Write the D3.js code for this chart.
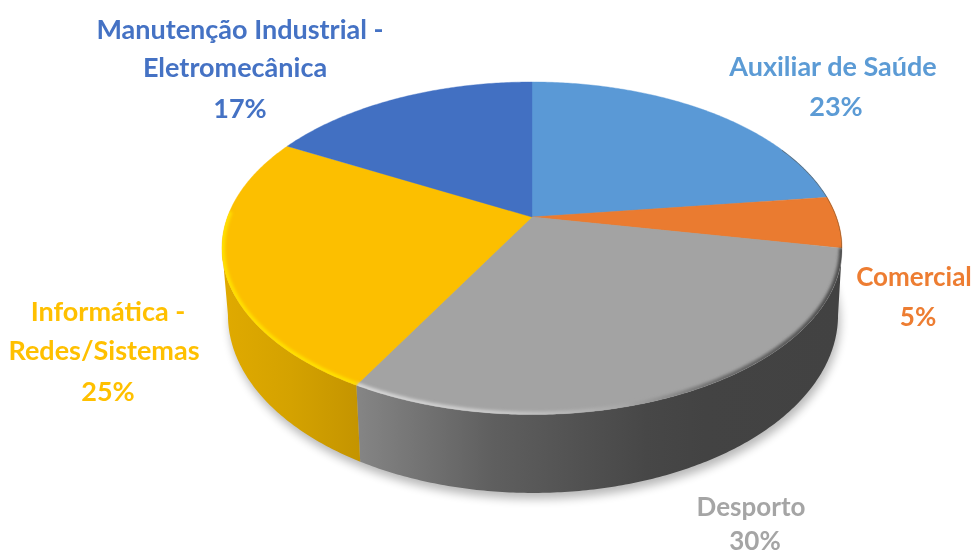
<!DOCTYPE html>
<html><head><meta charset="utf-8">
<script src="https://cdn.jsdelivr.net/npm/d3@7"></script>
<style>html,body{margin:0;padding:0;background:#fff}svg{display:block}</style>
</head><body>
<svg id="c" width="975" height="556"></svg>
<script>
const categories = ["Auxiliar de Saúde","Comercial","Desporto","Informática - Redes/Sistemas","Manutenção Industrial - Eletromecânica"];
const values = [23,5,30,25,17];
const percentLabels = ["23%","5%","30%","25%","17%"];
const labelLines = [["Auxiliar de Saúde"],["Comercial"],["Desporto"],["Informática -","Redes/Sistemas"],["Manutenção Industrial -","Eletromecânica"]];
const colors = ["#5a99d6","#ea7b30","#a3a3a3","#fcbf00","#4270c2"];
const labelColors = ["#5b9bd5","#ed7d31","#a5a5a5","#ffc000","#4472c4"];
// layout: centre x and centre y of each text line
const labelLayout = [
  {xs:[833,836],ys:[66,106],size:27},
  {xs:[914,918],ys:[277,317],size:26},
  {xs:[751,755],ys:[507,541],size:26},
  {xs:[108,104,108],ys:[311,350,391],size:27},
  {xs:[240,235,240],ys:[29,67,108],size:27}
];

const svg = d3.select("#c");
const defs = svg.append("defs");
const T = 0.188;
const topFace = {cx:532, cy:217, A:304.5, B:160.4};
const botFace = {cx:533, cy:281.6, A:299.6, B:171.6};
const project = (f,a)=>{const u=Math.sin(a),v=-Math.cos(a),d=1-T*v;return [f.cx+f.A*u/d, f.cy+f.B*v/d];};
const arcPts = (f,a0,a1)=>{const n=Math.max(2,Math.ceil(Math.abs(a1-a0)/0.01));return d3.range(n+1).map(i=>project(f,a0+(a1-a0)*i/n));};
const line = d3.line();
const arcs = d3.pie().sort(null).value(d=>d)(values);

function blur(id,s){defs.append("filter").attr("id",id).attr("x","-20%").attr("y","-20%").attr("width","140%").attr("height","140%")
  .append("feGaussianBlur").attr("stdDeviation",s);}
blur("sh",5);blur("bev",1.6);blur("txt",0.45);
function grad(id,x0,x1,stops){const g=defs.append("linearGradient").attr("id",id).attr("gradientUnits","userSpaceOnUse").attr("x1",x0).attr("x2",x1).attr("y1",0).attr("y2",0);
  stops.forEach(s=>g.append("stop").attr("offset",s[0]).attr("stop-color",s[1]));}
grad("sideGray",357,840,[[0,"#858585"],[0.28,"#5f5f5f"],[0.6,"#474747"],[0.72,"#434343"],[1,"#424242"]]);
grad("sideYel",222,360,[[0,"#e0aa00"],[0.5,"#d4a200"],[1,"#c49400"]]);
grad("bevGray",357,842,[[0,"#d6d6d6"],[0.3,"#c8c8c8"],[0.55,"#a8a8a8"],[0.75,"#6a6a6a"],[1,"#4a4a4a"]]);

// soft shadow
const whole=arcPts(botFace,0,2*Math.PI);
svg.append("path").attr("d",line(whole)+"Z").attr("transform","translate(2,6)").attr("fill","#000").attr("opacity",0.28).attr("filter","url(#sh)");

// sides
const leftExtreme = Math.PI*2*(259.2/360);
function side(a0,a1,fill){
  const pts=arcPts(topFace,a0,a1).concat(arcPts(botFace,a1,a0));
  svg.append("path").attr("d",line(pts)+"Z").attr("fill",fill);
}
side(arcs[2].startAngle,arcs[2].endAngle,"url(#sideGray)");
side(arcs[3].startAngle,leftExtreme,"url(#sideYel)");

// top faces
const clipPts=arcPts(topFace,0,2*Math.PI);
defs.append("clipPath").attr("id","topClip").append("path").attr("d",line(clipPts)+"Z");
const faces=svg.append("g");
arcs.forEach((d,i)=>{
  const pts=[[topFace.cx,topFace.cy]].concat(arcPts(topFace,d.startAngle,d.endAngle));
  faces.append("path").attr("d",line(pts)+"Z").attr("fill",colors[i]).attr("stroke",colors[i]).attr("stroke-width",0.4);
});
// bevels along the front rim
const bev=svg.append("g").attr("clip-path","url(#topClip)");
bev.append("path").attr("d",line(arcPts(topFace,arcs[2].startAngle,arcs[2].endAngle))).attr("fill","none").attr("stroke","url(#bevGray)").attr("stroke-width",6).attr("filter","url(#bev)");
bev.append("path").attr("d",line(arcPts(topFace,arcs[3].startAngle,Math.PI*2*(272/360)))).attr("fill","none").attr("stroke","#ffe000").attr("stroke-width",6).attr("filter","url(#bev)");
bev.append("path").attr("d",line(arcPts(topFace,arcs[0].startAngle+1.1,arcs[1].endAngle))).attr("fill","none").attr("stroke","#5a4020").attr("stroke-width",1.2).attr("opacity",0.6).attr("filter","url(#txt)");

// labels
const labels=svg.append("g").attr("filter","url(#txt)").attr("font-family","Lato, sans-serif").attr("font-weight",700).attr("text-anchor","middle");
arcs.forEach((d,i)=>{
  const lines=labelLines[i].concat(percentLabels[i]);
  lines.forEach((t,j)=>{
    labels.append("text").attr("x",labelLayout[i].xs[j]).attr("y",labelLayout[i].ys[j]).attr("dy","0.36em").attr("font-size",labelLayout[i].size).attr("fill",labelColors[i]).text(t);
  });
});
</script>
</body></html>
